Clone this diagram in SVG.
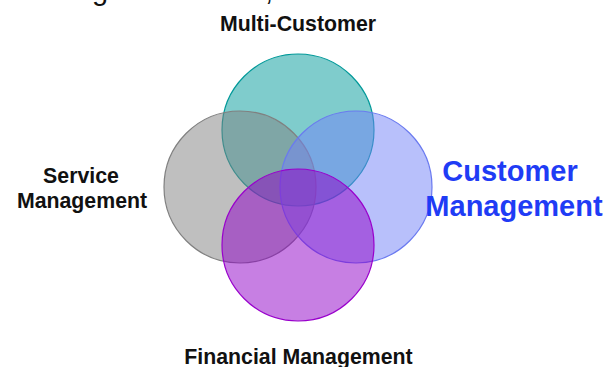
<svg xmlns="http://www.w3.org/2000/svg" width="607" height="367" viewBox="0 0 607 367">
<style>
.lbl{font-family:"Liberation Sans",Arial,sans-serif;font-weight:bold;font-size:21.3px;fill:#111;text-anchor:middle}
.big{font-family:"Liberation Sans",Arial,sans-serif;font-weight:bold;font-size:29px;fill:#1f3cf5;text-anchor:middle}
.top{font-family:"Liberation Sans",Arial,sans-serif;font-size:29px;fill:#111}
.c{stroke-width:1.2;fill-opacity:0.5}
</style>
<rect width="607" height="367" fill="#ffffff"/>
<text class="top" x="92" y="0">g</text>
<text class="top" x="265" y="0">,</text>
<g id="multi-customer">
<circle class="c" cx="298" cy="130" r="76" fill="#009999" stroke="#009999"/>
<text class="lbl" x="298" y="30.5">Multi-Customer</text>
</g>
<g id="service-management">
<circle class="c" cx="240" cy="187" r="76" fill="#808080" stroke="#808080"/>
<text class="lbl" x="81" y="183">Service</text>
<text class="lbl" x="82" y="208">Management</text>
</g>
<g id="customer-management">
<circle class="c" cx="356" cy="187" r="76" fill="#7181f7" stroke="#6a7af0"/>
<text class="big" x="510" y="181">Customer</text>
<text class="big" x="514" y="216">Management</text>
</g>
<g id="financial-management">
<circle class="c" cx="298" cy="245" r="76" fill="#8f00c7" stroke="#9900cc"/>
<text class="lbl" x="298.5" y="364">Financial Management</text>
</g>
<g id="connectors"></g>
</svg>
